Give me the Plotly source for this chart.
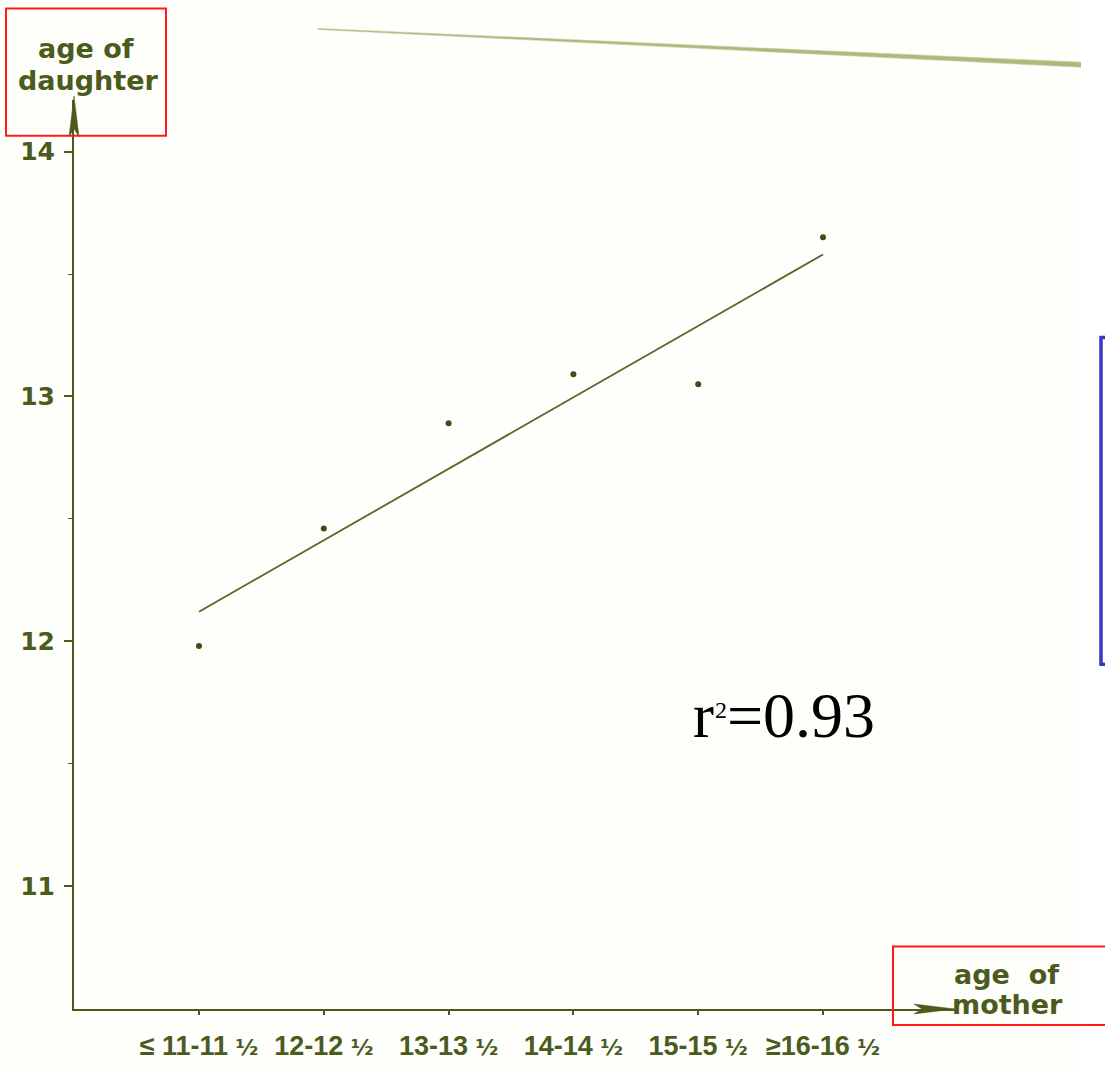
import plotly.graph_objects as go

# --- data -------------------------------------------------------------
FRAC = "<span style='font-family:DejaVu Sans;font-size:22px'>½</span>"
mother_age_labels = [
    "≤ 11-11 " + FRAC,
    "12-12 " + FRAC,
    "13-13 " + FRAC,
    "14-14 " + FRAC,
    "15-15 " + FRAC,
    "≥16-16 " + FRAC,
]
mother_idx = [0, 1, 2, 3, 4, 5]
daughter_age = [11.98, 12.46, 12.89, 13.09, 13.05, 13.65]

fit_idx = [0, 5]
fit_age = [12.12, 13.58]

y_ticks = [11, 12, 13, 14]
y_minor_ticks = [11.5, 12.5, 13.5]
r2_symbol, r2_exponent, r2_value = "r", "2", "=0.93"

# --- layout geometry (pixels) ----------------------------------------
W, H = 1105, 1073
L, R, T, B = 74, 955, 100, 1015          # plot-area edges
CAT0, CAT_STEP = 199, 124.8               # first category position / spacing
Y14, Y_UNIT = 152, 246.33                 # pixel of y=14, pixels per year

INK = "#4a5b1d"
FONT = "DejaVu Sans"
TICK_FONT = "Liberation Sans"


def px(x):
    return (x - L) / (R - L)


def py(y):
    return (B - y) / (B - T)


x_range = [(L - CAT0) / CAT_STEP, (R - CAT0) / CAT_STEP]
y_range = [14 - (B - Y14) / Y_UNIT, 14 + (Y14 - T) / Y_UNIT]

fig = go.Figure()

fig.add_trace(go.Scatter(
    x=fit_idx, y=fit_age, mode="lines",
    line=dict(color="#56672a", width=1.8),
    hoverinfo="skip", showlegend=False,
))
fig.add_trace(go.Scatter(
    x=mother_idx, y=daughter_age, mode="markers",
    marker=dict(color="#3e4d17", size=6),
    showlegend=False,
))


def path(points):
    return "M " + " L ".join(f"{px(a)},{py(b)}" for a, b in points) + " Z"


shapes = [
    # arrowheads on the two axes
    dict(type="path", xref="paper", yref="paper", layer="above",
         path=path([(74, 96), (79, 137), (74, 129), (69, 137)]),
         fillcolor=INK, line=dict(color=INK, width=0.5)),
    dict(type="path", xref="paper", yref="paper", layer="above",
         path=path([(955, 1015), (914, 1020), (922, 1015), (914, 1010)]),
         fillcolor=INK, line=dict(color=INK, width=0.5)),
    # page edge at the top, tapering towards the left
    dict(type="path", xref="paper", yref="paper", layer="below",
         path=path([(318, 28), (1082, 62), (1082, 67), (318, 29)]),
         fillcolor="#b3b77c", line=dict(color="#c4c79a", width=0.6)),
    # white margin at the right of the page
    dict(type="rect", xref="paper", yref="paper", layer="below",
         x0=px(1081), y0=py(-5), x1=px(1110), y1=py(1080),
         fillcolor="white", line=dict(width=0)),
    # highlight boxes around the axis names
    dict(type="rect", xref="paper", yref="paper", layer="above",
         x0=px(6), y0=py(8), x1=px(166), y1=py(136),
         line=dict(color="#ff1a1a", width=2)),
    dict(type="rect", xref="paper", yref="paper", layer="above",
         x0=px(893), y0=py(952), x1=px(1112), y1=py(1031),
         line=dict(color="#ff1a1a", width=2)),
    # blue frame running off the right edge
    dict(type="rect", xref="paper", yref="paper", layer="above",
         x0=px(1101), y0=py(339), x1=px(1140), y1=py(668),
         line=dict(color="#3a36c8", width=3.5)),
]

title_font = dict(family=FONT, size=27, color=INK, weight="bold")
serif = "Liberation Serif"


def label(text, x, y, font, xanchor="center"):
    return dict(text=text, xref="paper", yref="paper", x=px(x), y=py(y),
                xanchor=xanchor, yanchor="middle", showarrow=False, font=font)


annotations = [
    label("age of", 86, 48, title_font),
    label("daughter", 88, 80, title_font),
    label("age  of", 1006, 980, title_font),
    label("mother", 1008, 1010, title_font),
    label(r2_symbol, 716, 720, dict(family=serif, size=63, color="black"),
          xanchor="right"),
    label(r2_exponent, 713, 714, dict(family=serif, size=24, color="black"),
          xanchor="left"),
    label(r2_value, 725, 720, dict(family=serif, size=64, color="black"),
          xanchor="left"),
]

fig.update_layout(
    width=W, height=H, autosize=False,
    margin=dict(l=L, r=W - R, t=T, b=H - B, pad=0),
    paper_bgcolor="#fefefb", plot_bgcolor="rgba(0,0,0,0)",
    shapes=shapes, annotations=annotations,
    xaxis=dict(
        range=x_range, tickmode="array", tickvals=mother_idx,
        ticktext=mother_age_labels, showgrid=False, zeroline=False,
        showline=True, linecolor=INK, linewidth=2,
        ticks="outside", ticklen=4, tickwidth=1.5, tickcolor=INK,
        ticklabelstandoff=8,
        tickfont=dict(family=TICK_FONT, size=27, color=INK, weight="bold"),
    ),
    yaxis=dict(
        range=y_range, tickmode="array", tickvals=y_ticks,
        showgrid=False, zeroline=False,
        showline=True, linecolor=INK, linewidth=2,
        ticks="outside", ticklen=8, tickwidth=1.5, tickcolor=INK,
        ticklabelstandoff=4,
        minor=dict(tickmode="array", tickvals=y_minor_ticks, ticks="outside",
                   ticklen=4, tickwidth=1.2, tickcolor=INK, showgrid=False),
        tickfont=dict(family=FONT, size=25, color=INK, weight="bold"),
    ),
)

fig.write_html("out.html")
